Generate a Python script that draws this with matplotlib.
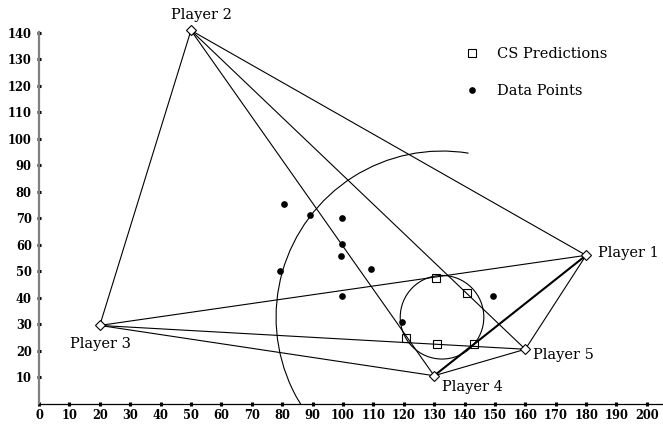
import matplotlib
matplotlib.use("Agg")
import matplotlib.pyplot as plt
from matplotlib.patches import Ellipse, Arc
from matplotlib.lines import Line2D

# player positions
player_names = ["Player 1", "Player 2", "Player 3", "Player 4", "Player 5"]
player_x = [180, 50, 20, 130, 160]
player_y = [56, 141, 29.5, 10.5, 20.5]

# core solution predictions
cs_x = [130.6, 140.8, 120.6, 130.9, 143.2]
cs_y = [47.4, 41.6, 24.6, 22.4, 22.5]

# observed data
data_x = [80.6, 89.3, 99.8, 99.8, 99.4, 109.1, 79.3, 99.8, 149.4, 119.5]
data_y = [75.4, 71.2, 70.2, 60.4, 55.7, 50.7, 50.2, 40.7, 40.7, 30.9]

# circles around the prediction centre (x/y radii in data units)
centre = (132.6, 32.6)
inner_r = (13.75, 15.8)
outer_r = (54.6, 62.8)
outer_span = (82, 250)

x_ticks = list(range(0, 201, 10))
y_ticks = list(range(10, 141, 10))

plt.rcParams['font.family'] = ['DejaVu Serif']

fig = plt.figure(figsize=(6.63, 4.26), dpi=100)
ax = fig.add_axes([0.0588, 0.0528, 0.9412, 0.8728])

# every pair of players is joined
for i in range(len(player_x)):
    for j in range(i + 1, len(player_x)):
        lw = 1.5 if (i, j) == (0, 3) else 0.8
        ax.plot([player_x[i], player_x[j]], [player_y[i], player_y[j]],
                color='black', lw=lw, zorder=2)

ax.add_patch(Ellipse(centre, 2 * inner_r[0], 2 * inner_r[1],
                     fill=False, color='black', lw=0.8))
ax.add_patch(Arc(centre, 2 * outer_r[0], 2 * outer_r[1],
                 theta1=outer_span[0], theta2=outer_span[1],
                 color='black', lw=0.8))

ax.plot(player_x, player_y, 'D', ms=5, mfc='white', mec='black', mew=0.8,
        ls='none', zorder=4, clip_on=False)
ax.plot(cs_x, cs_y, 's', ms=5.5, mfc='none', mec='black', mew=0.8,
        ls='none', zorder=4)
ax.plot(data_x, data_y, 'o', ms=3.8, color='black', ls='none', zorder=4)

# player labels
label_pos = [(184, 56.8, 'left'), (53.6, 146.8, 'center'), (20.1, 22.4, 'center'),
             (142.6, 6.1, 'center'), (162.6, 18.3, 'left')]
for name, (lx, ly, ha) in zip(player_names, label_pos):
    ax.text(lx, ly, name, ha=ha, va='center', fontsize=10.5, clip_on=False)

handles = [Line2D([], [], marker='s', ms=5.5, mfc='none', mec='black', mew=0.8, ls='none'),
           Line2D([], [], marker='o', ms=3.8, color='black', ls='none')]
ax.legend(handles, ["CS Predictions", "Data Points"], loc='upper left',
          bbox_to_anchor=(0.662, 0.995), frameon=False, fontsize=10.5,
          handletextpad=1.2, labelspacing=1.6, handlelength=1.0)

ax.set_xlim(0, 205.3)
ax.set_ylim(0, 140.5)
ax.set_xticks(x_ticks)
ax.set_yticks(y_ticks)
ax.set_xticklabels([str(v) for v in x_ticks], fontweight='bold', fontsize=8.3)
ax.set_yticklabels([str(v) for v in y_ticks], fontweight='bold', fontsize=8.3)
ax.tick_params(direction='inout', length=2.5, width=2.2, color='black')
ax.tick_params(axis='y', pad=4)
ax.tick_params(axis='x', pad=3)

for side in ('top', 'right'):
    ax.spines[side].set_visible(False)
ax.spines['left'].set_color('#808080')
ax.spines['left'].set_linewidth(1.6)
ax.spines['bottom'].set_linewidth(0.9)

fig.savefig("out.png", dpi=100)
